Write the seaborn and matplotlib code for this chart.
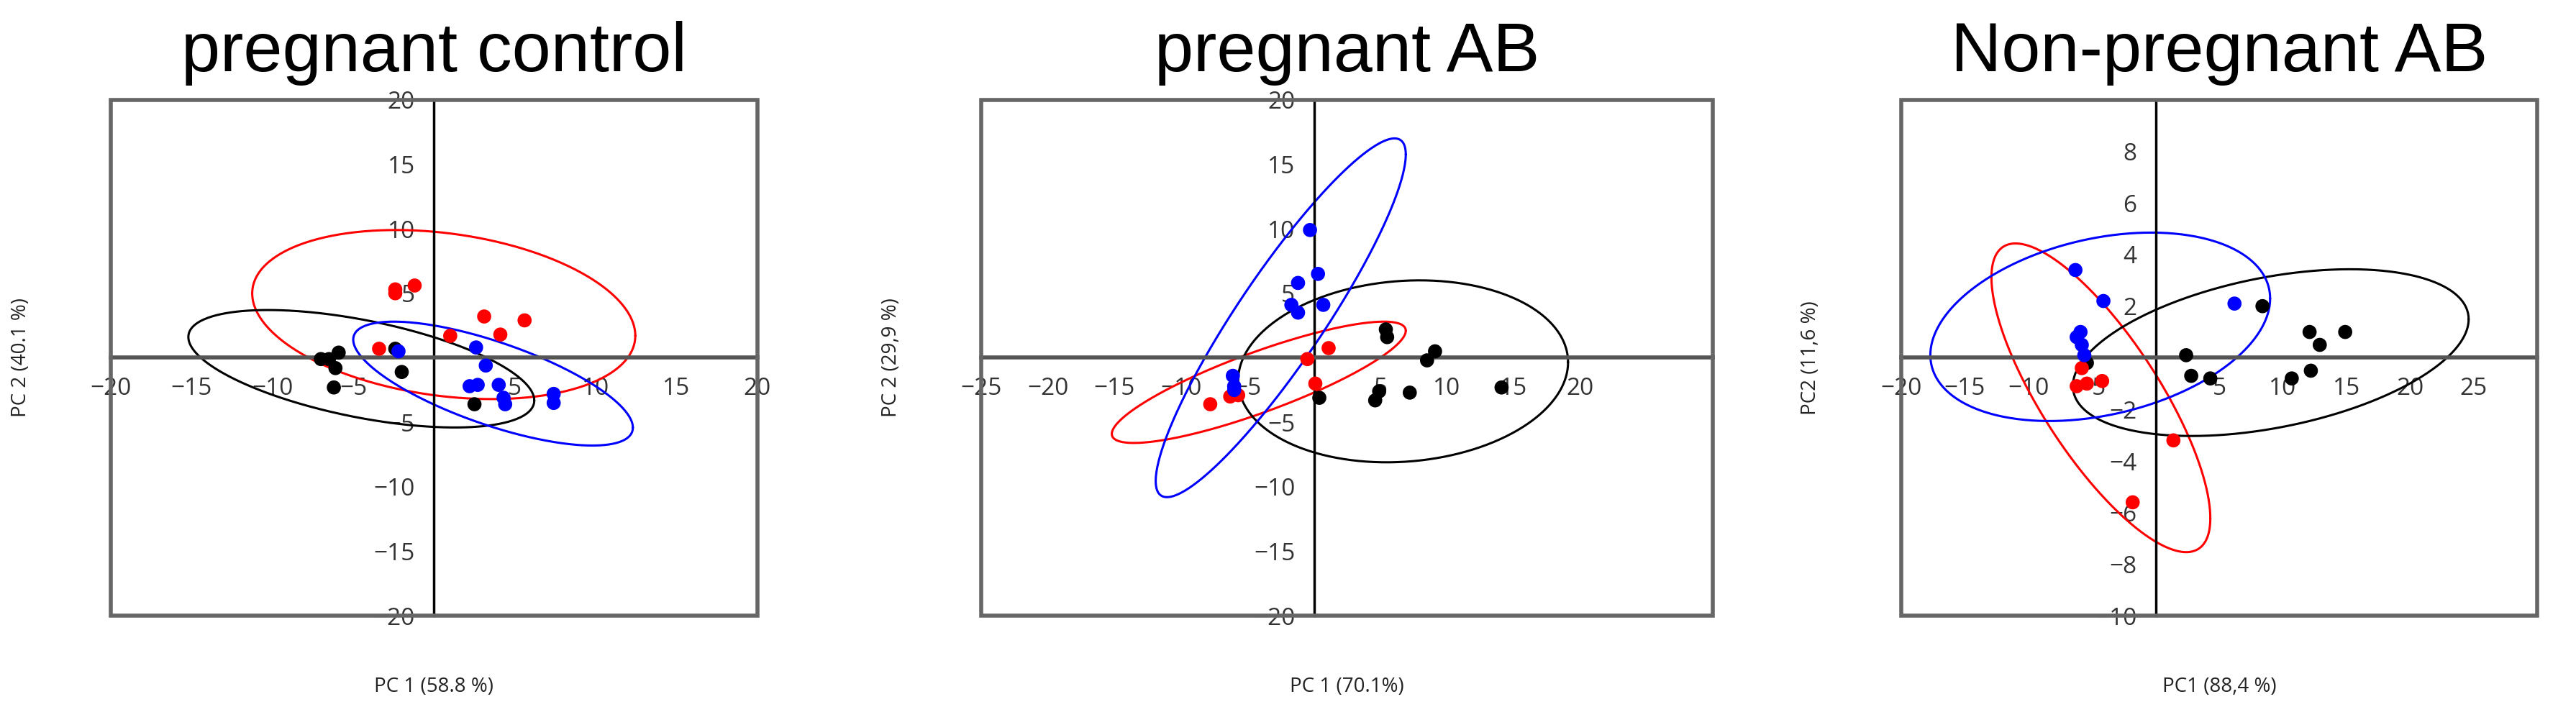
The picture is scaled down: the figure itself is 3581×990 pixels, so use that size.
import numpy as np
import pandas as pd
import matplotlib
matplotlib.use("Agg")
import matplotlib.pyplot as plt
from matplotlib.patches import Rectangle
import seaborn as sns

sns.set_style("white")
plt.rcParams['font.family'] = ['Open Sans', 'DejaVu Sans']

titles = ["pregnant control", "pregnant AB", "Non-pregnant AB"]
xlabels = ["PC 1 (58.8 %)", "PC 1 (70.1%)", "PC1 (88,4 %)"]
ylabels = ["PC 2 (40.1 %)", "PC 2 (29,9 %)", "PC2 (11,6 %)"]

# panel 1
p1_red_x = [-2.4, -2.4, -1.2, 3.1, 5.6, 4.1, 1.0, -3.4]
p1_red_y = [5.3, 5.0, 5.6, 3.2, 2.9, 1.8, 1.7, 0.7]
p1_blk_x = [-7.0, -6.5, -5.9, -6.1, -6.2, -2.4, -2.0, 2.5]
p1_blk_y = [-0.1, -0.1, 0.4, -0.8, -2.3, 0.7, -1.1, -3.6]
p1_blu_x = [-2.2, 2.6, 3.2, 2.2, 2.7, 4.0, 4.3, 4.4, 7.4, 7.4]
p1_blu_y = [0.5, 0.8, -0.6, -2.2, -2.1, -2.1, -3.1, -3.6, -2.8, -3.5]
# panel 2
p2_red_x = [1.1, -0.5, 0.1, -6.3, -7.8, -5.7]
p2_red_y = [0.75, -0.1, -2.0, -3.0, -3.6, -2.9]
p2_blk_x = [5.4, 5.5, 9.1, 8.5, 0.4, 4.9, 4.6, 7.2, 14.1]
p2_blk_y = [2.2, 1.6, 0.5, -0.2, -3.1, -2.6, -3.3, -2.7, -2.3]
p2_blu_x = [-0.3, -1.2, 0.3, -1.7, -1.2, 0.7, -6.1, -6.0, -6.0]
p2_blu_y = [9.9, 5.8, 6.5, 4.1, 3.5, 4.1, -1.4, -2.2, -2.5]
# panel 3
p3_red_x = [-5.8, -6.2, -5.4, -4.2, 1.4, -1.8]
p3_red_y = [-0.4, -1.1, -1.0, -0.9, -3.2, -5.6]
p3_blk_x = [-5.4, 2.4, 2.8, 4.3, 8.4, 12.1, 12.9, 14.9, 10.7, 12.2]
p3_blk_y = [-0.2, 0.1, -0.7, -0.8, 2.0, 1.0, 0.5, 1.0, -0.8, -0.5]
p3_blu_x = [-6.3, -4.1, 6.2, -6.2, -5.9, -5.8, -5.6]
p3_blu_y = [3.4, 2.2, 2.1, 0.8, 1.0, 0.5, 0.1]

# confidence ellipses: center x, center y, x half-extent, y half-extent, sin(phase)
ell = {
    0: {"red": (0.6, 3.35, 11.85, 6.55, -0.25), "black": (-4.5, -0.85, 10.7, 4.55, -0.54), "blue": (3.65, -2.0, 8.65, 4.8, -0.71)},
    1: {"red": (-4.15, -1.9, 11.05, 4.7, 0.85), "black": (6.7, -1.05, 12.4, 7.05, 0.1), "blue": (-2.5, 3.1, 9.4, 13.9, 0.91)},
    2: {"red": (-4.3, -1.55, 8.6, 5.98, -0.78), "black": (9.05, 0.2, 15.55, 3.23, 0.4), "blue": (-4.35, 1.2, 13.35, 3.65, 0.3)},
}

xlims = [(-20, 20), (-25, 30), (-20, 30)]
ylims = [(-20, 20), (-20, 20), (-10, 10)]
xticks = [range(-20, 21, 5), range(-25, 21, 5), range(-20, 26, 5)]
yticks = [range(-20, 21, 5), range(-20, 21, 5), range(-10, 9, 2)]

data = [
    (p1_red_x, p1_red_y, p1_blk_x, p1_blk_y, p1_blu_x, p1_blu_y),
    (p2_red_x, p2_red_y, p2_blk_x, p2_blk_y, p2_blu_x, p2_blu_y),
    (p3_red_x, p3_red_y, p3_blk_x, p3_blk_y, p3_blu_x, p3_blu_y),
]

palette = {"black": "#000000", "red": "#ff0000", "blue": "#0000ff"}
positions = [(0.043, 0.135, 0.251, 0.725), (0.381, 0.135, 0.284, 0.725), (0.738, 0.135, 0.247, 0.725)]

fig = plt.figure(figsize=(35.81, 9.9), dpi=100)
for i in range(3):
    ax = fig.add_axes(positions[i])
    rx, ry, bx, by, ux, uy = data[i]
    df = pd.DataFrame({
        "x": list(bx) + list(rx) + list(ux),
        "y": list(by) + list(ry) + list(uy),
        "g": ["black"] * len(bx) + ["red"] * len(rx) + ["blue"] * len(ux),
    })
    t = np.linspace(0, 2 * np.pi, 400)
    for g, (cx, cy, A, B, s) in ell[i].items():
        phi = np.arcsin(s)
        ax.plot(cx + A * np.cos(t), cy + B * np.sin(t + phi), color=palette[g], lw=2.2, zorder=2)
    sns.scatterplot(data=df, x="x", y="y", hue="g", palette=palette, s=200,
                    edgecolor="none", legend=False, ax=ax, zorder=3)
    ax.set_xlim(*xlims[i])
    ax.set_ylim(*ylims[i])
    ax.spines['left'].set_position('zero')
    ax.spines['bottom'].set_position('zero')
    ax.spines['right'].set_visible(False)
    ax.spines['top'].set_visible(False)
    ax.spines['left'].set_color('black')
    ax.spines['left'].set_linewidth(2.5)
    ax.spines['bottom'].set_color('#555555')
    ax.spines['bottom'].set_linewidth(4)
    ax.set_xticks([v for v in xticks[i] if v != 0])
    ax.set_yticks([v for v in yticks[i] if v != 0])
    ax.tick_params(axis='both', direction='out', length=14, width=2.5, labelsize=24,
                   colors='#333333', pad=5)
    ax.add_patch(Rectangle((0, 0), 1, 1, transform=ax.transAxes, fill=False,
                           edgecolor='#666666', lw=4, clip_on=False, zorder=5))
    ax.set_xlabel("")
    ax.set_ylabel("")
    pos = positions[i]
    fig.text(pos[0] + pos[2] / 2, 0.035, xlabels[i], ha='center', va='center', fontsize=20, color='#222222')
    fig.text(pos[0] - 0.035, pos[1] + pos[3] / 2, ylabels[i], ha='center', va='center',
             rotation=90, fontsize=20, color='#222222')
    fig.text(pos[0] + pos[2] / 2, 0.925, titles[i], ha='center', va='center', fontsize=70,
             color='black', family=['Liberation Sans', 'DejaVu Sans'])

fig.savefig("out.png", dpi=100)
